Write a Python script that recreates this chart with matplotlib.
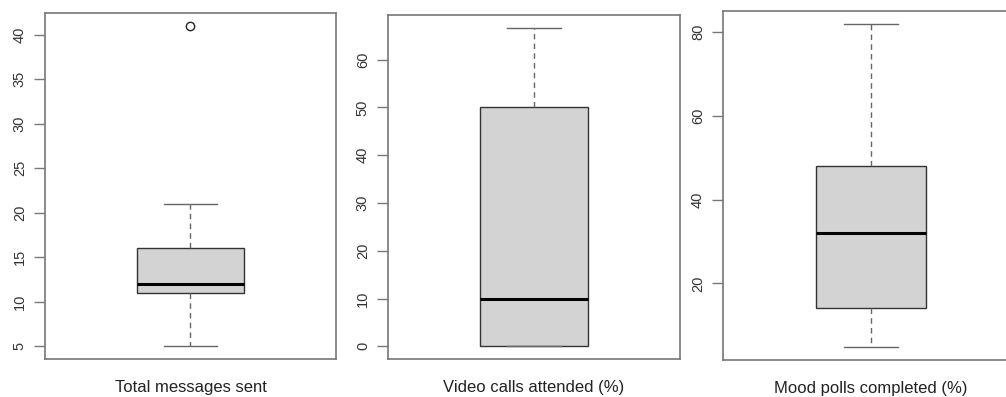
import matplotlib.pyplot as plt

plt.rcParams['font.family'] = ['Liberation Sans', 'DejaVu Sans']

# summary stats: low whisker, Q1, median, Q3, high whisker
labels = ['Total messages sent', 'Video calls attended (%)', 'Mood polls completed (%)']
whislo = [5, 0, 4.8]
q1 = [11, 0, 14.2]
med = [12, 9.8, 32.1]
q3 = [16, 50, 48]
whishi = [21, 66.7, 82]
fliers = [[41], [], []]

yticks = [[5, 10, 15, 20, 25, 30, 35, 40],
          [0, 10, 20, 30, 40, 50, 60],
          [20, 40, 60, 80]]

# panel boxes in pixels: left, right, top, bottom
panels = [(45, 336, 13, 359), (388, 680, 15, 359), (723, 1019, 11, 360)]

W, H = 1006, 397
fig = plt.figure(figsize=(W / 100, H / 100), dpi=100)

for i, (l, r, t, b) in enumerate(panels):
    ax = fig.add_axes([l / W, (H - b) / H, (r - l) / W, (b - t) / H])
    stats = [dict(whislo=whislo[i], q1=q1[i], med=med[i], q3=q3[i],
                  whishi=whishi[i], fliers=fliers[i], label='')]
    ax.bxp(stats, positions=[1], widths=0.4, capwidths=0.2, patch_artist=True,
           boxprops=dict(facecolor='#d3d3d3', edgecolor='#333333', linewidth=1),
           medianprops=dict(color='black', linewidth=2.2),
           whiskerprops=dict(color='#666666', linestyle=(0, (4, 3)), linewidth=1),
           capprops=dict(color='#666666', linewidth=1),
           flierprops=dict(marker='o', markerfacecolor='none', markeredgecolor='#222222',
                           markersize=6, markeredgewidth=1))
    lo = min(whislo[i], *(fliers[i] or [whislo[i]]))
    hi = max(whishi[i], *(fliers[i] or [whishi[i]]))
    pad = (hi - lo) * 0.04
    ax.set_ylim(lo - pad, hi + pad)
    ax.set_xlim(0.46, 1.54)
    ax.set_xticks([])
    ax.set_yticks(yticks[i])
    ax.set_yticklabels([str(v) for v in yticks[i]], rotation=90, va='center',
                       fontsize=10.5, color='#333333')
    ax.tick_params(axis='y', length=8, width=1, color='#777777', pad=5)
    for s in ax.spines.values():
        s.set_color('#777777')
        s.set_linewidth(1.2)
    ax.set_xlabel(labels[i], fontsize=12, labelpad=15, color='#222222')

fig.savefig('out.png', dpi=100)
